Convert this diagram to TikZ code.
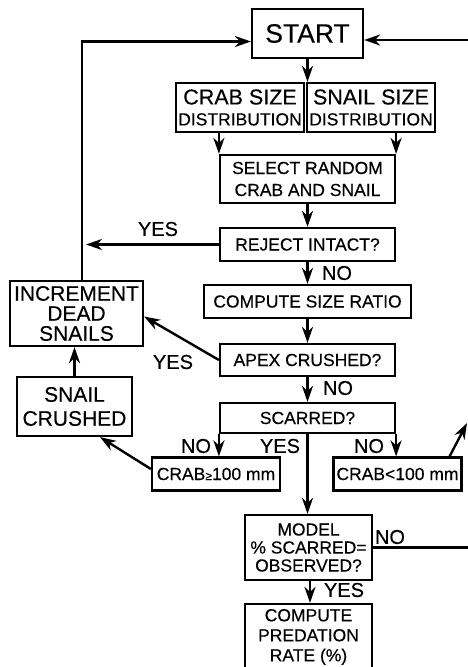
\documentclass[tikz,border=0pt]{standalone}
\usepackage{fontspec}
\setmainfont[FakeBold=0.35]{Liberation Sans}
\usetikzlibrary{arrows.meta,calc}
\begin{document}
\begin{tikzpicture}[x=1pt,y=-1pt,
 box/.style={draw,line width=2.2pt,inner sep=0pt,align=center,font=\fontsize{17.5}{21}\selectfont},
 lbl/.style={inner sep=0pt,font=\fontsize{20}{24}\selectfont},
 arr/.style={line width=2.4pt,-{Stealth[length=16pt,width=11pt,inset=5pt]}},
 ln/.style={line width=2.4pt}]
\useasboundingbox (0,0) rectangle (468,667);
\clip (0,0) rectangle (468,667);
% boxes
\node[box,minimum width=111pt,minimum height=49pt,font=\fontsize{26.5}{30}\selectfont] (start) at (307.5,33.5) {START};
\node[box,minimum width=128pt,minimum height=49pt] (crab) at (240,107.5) {{\fontsize{21.5}{22}\selectfont CRAB SIZE}\\DISTRIBUTION};
\node[box,minimum width=128pt,minimum height=49pt] (snail) at (371,107.5) {{\fontsize{21.5}{22}\selectfont SNAIL SIZE}\\DISTRIBUTION};
\node[box,minimum width=175pt,minimum height=48pt,font=\fontsize{17.5}{22}\selectfont] (select) at (307.5,179) {SELECT RANDOM\\CRAB AND SNAIL};
\node[box,minimum width=175pt,minimum height=33pt] (reject) at (307.5,244.5) {REJECT INTACT?};
\node[box,minimum width=207pt,minimum height=33pt] (ratio) at (307.5,301.5) {COMPUTE SIZE RATIO};
\node[box,minimum width=133pt,minimum height=65pt,font=\fontsize{21}{20}\selectfont] (incr) at (76.5,313.5) {INCREMENT\\DEAD\\SNAILS};
\node[box,minimum width=175pt,minimum height=32pt] (apex) at (307.5,360) {APEX CRUSHED?};
\node[box,minimum width=115pt,minimum height=59pt,font=\fontsize{21}{24}\selectfont] (snailc) at (74.5,406.5) {SNAIL\\CRUSHED};
\node[box,minimum width=175pt,minimum height=30pt] (scarred) at (307.5,418) {SCARRED?};
\node[box,minimum width=128pt,minimum height=33pt] (crabge) at (216,474) {CRAB{\fontsize{12}{12}\selectfont ≥}100 mm};
\node[box,minimum width=128pt,minimum height=33pt] (crablt) at (397.5,474) {CRAB<100 mm};
\node[box,minimum width=127pt,minimum height=65pt,font=\fontsize{17.5}{18}\selectfont] (model) at (308.5,547.5) {MODEL\\\% SCARRED=\\OBSERVED?};
\node[box,minimum width=127pt,minimum height=66pt,font=\fontsize{17.5}{20}\selectfont] (compute) at (308.5,637) {COMPUTE\\PREDATION\\RATE (\%)};
% free ends
\coordinate (rightin) at (470,40);
\coordinate (rejyes) at (86,244.5);
\coordinate (crabout) at (467,423);
\coordinate (modelout) at (470,549);
% connectors
\draw[arr] (rightin) -- (rightin -| start.east);
\draw[arr] ([xshift=5.5pt]incr.north) |- ([yshift=-8pt]start.west);
\draw[arr] (start.south) -- (start.south |- crab.north);
\draw[arr] (select.north west |- crab.south) -- (select.north west);
\draw[arr] (select.north east |- snail.south) -- (select.north east);
\draw[arr] (select.south) -- (reject.north);
\draw[arr] (reject.west) -- (rejyes);
\draw[arr] (reject.south) -- (ratio.north);
\draw[arr] (ratio.south) -- (apex.north);
\draw[arr] (apex.west) -- ([yshift=-3pt]incr.east);
\draw[arr] (apex.south) -- (scarred.north);
\draw[arr] (snailc.north) -- (snailc.north |- incr.south);
\draw[arr] (scarred.south west) -- (scarred.south west |- crabge.north);
\draw[arr] (scarred.south east) -- (scarred.south east |- crablt.north);
\draw[arr] (scarred.south) -- (scarred.south |- model.north);
\draw[arr] ([yshift=5pt]crabge.west) -- ([xshift=25.5pt]snailc.south);
\draw[arr] ([xshift=-13pt]crablt.north east) -- (crabout);
\draw[ln] (model.east) -- (modelout |- model.east);
\draw[arr] ([xshift=1.5pt]model.south) -- ([xshift=1.5pt]compute.north);
% labels
\node[lbl] (l1) at (158,229) {YES};
\node[lbl] (l2) at (337,273) {NO};
\node[lbl] (l3) at (173,362) {YES};
\node[lbl] (l4) at (338,388) {NO};
\node[lbl] (l5) at (196,446) {NO};
\node[lbl] (l6) at (280,446) {YES};
\node[lbl] (l7) at (369,446) {NO};
\node[lbl] (l8) at (390,537) {NO};
\node[lbl] (l9) at (344,590) {YES};
\end{tikzpicture}
\end{document}
